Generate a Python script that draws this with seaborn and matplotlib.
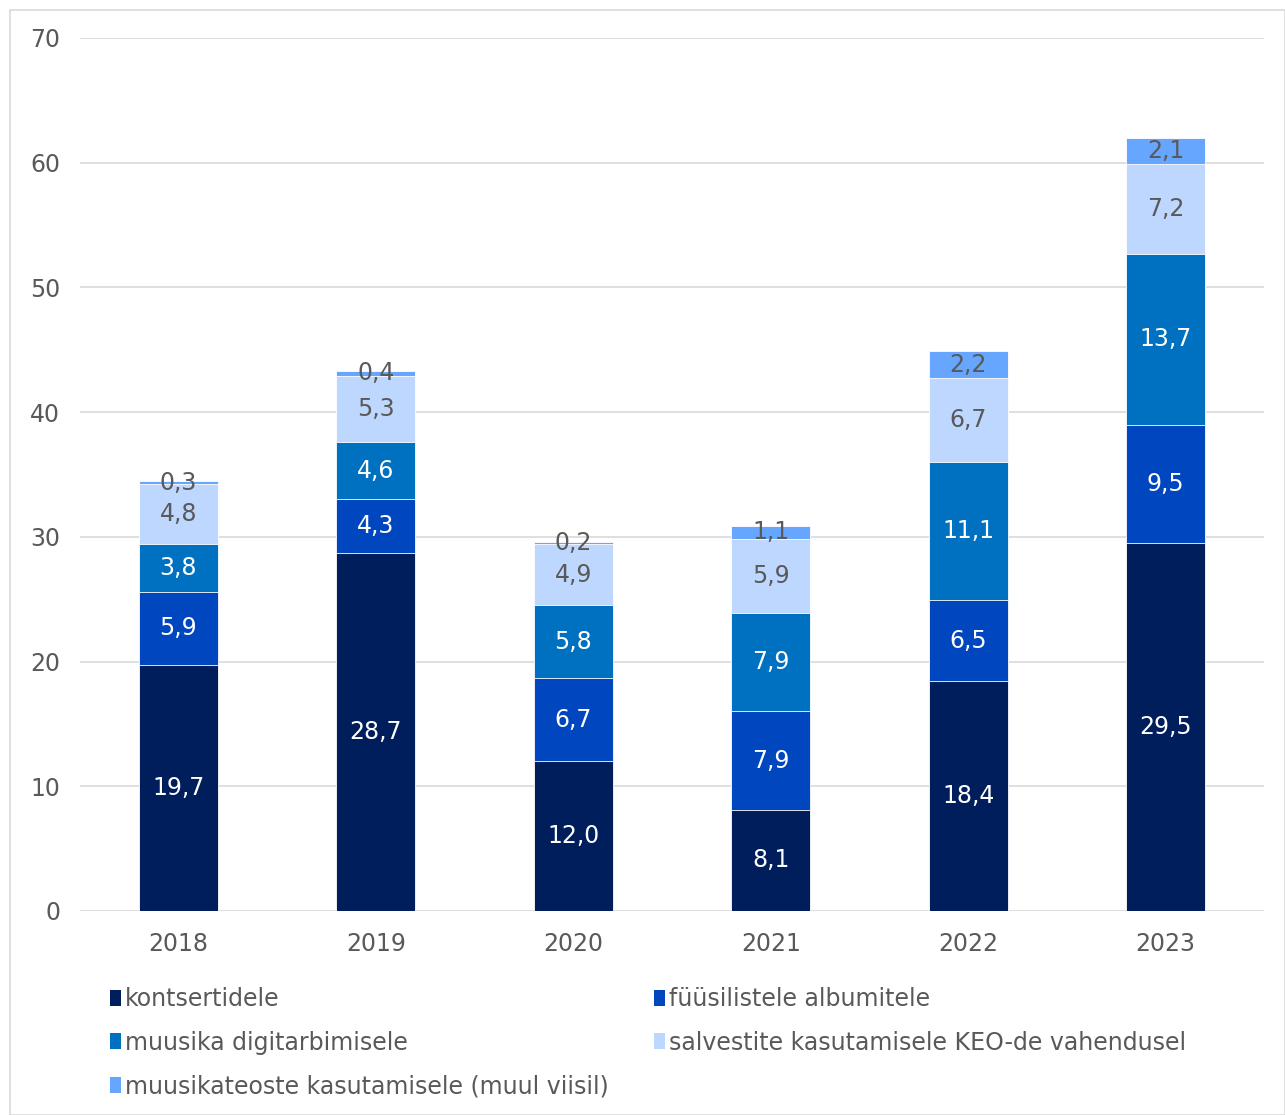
import numpy as np
import pandas as pd
import matplotlib
matplotlib.use("Agg")
import matplotlib.pyplot as plt
import seaborn as sns
from matplotlib.patches import Patch, Rectangle

years = ["2018", "2019", "2020", "2021", "2022", "2023"]
kontsertidele = [19.7, 28.7, 12.0, 8.1, 18.4, 29.5]
fuusilistele = [5.9, 4.3, 6.7, 7.9, 6.5, 9.5]
digitarbimisele = [3.8, 4.6, 5.8, 7.9, 11.1, 13.7]
keo = [4.8, 5.3, 4.9, 5.9, 6.7, 7.2]
muul = [0.3, 0.4, 0.2, 1.1, 2.2, 2.1]

series_names = [
    "kontsertidele",
    "füüsilistele albumitele",
    "muusika digitarbimisele",
    "salvestite kasutamisele KEO-de vahendusel",
    "muusikateoste kasutamisele (muul viisil)",
]
series_values = [kontsertidele, fuusilistele, digitarbimisele, keo, muul]
colors = ["#001E5C", "#0046BE", "#0070C0", "#BDD7FF", "#66A6FF"]
label_colors = ["white", "white", "white", "#595959", "#595959"]

sns.set_style("white")
plt.rcParams["font.family"] = ["DejaVu Sans"]

fig = plt.figure(figsize=(12.85, 11.15), dpi=100)
ax = fig.add_axes([0.062, 0.183, 0.922, 0.783])

df = pd.DataFrame({"year": years})
for name, vals in zip(series_names, series_values):
    df[name] = vals
cum = df[series_names].cumsum(axis=1)

# draw cumulative totals from top layer down so each layer shows its own segment
for i in range(len(series_names) - 1, -1, -1):
    sns.barplot(x=df["year"], y=cum[series_names[i]], color=colors[i],
                width=0.4, saturation=1, edgecolor="white", linewidth=0.6,
                ax=ax, zorder=3)

for i, name in enumerate(series_names):
    bottoms = cum[name] - df[name]
    for j, v in enumerate(df[name]):
        ax.text(j, bottoms[j] + v / 2, f"{v:.1f}".replace(".", ","),
                ha="center", va="center", fontsize=17,
                color=label_colors[i], zorder=5)

ax.set_ylim(0, 70)
ax.set_yticks(range(0, 71, 10))
ax.set_xlim(-0.5, 5.5)
ax.yaxis.grid(True, color="#D9D9D9", linewidth=1.2, zorder=0)
ax.set_axisbelow(True)
for s in ["top", "right", "left", "bottom"]:
    ax.spines[s].set_visible(False)
ax.tick_params(axis="both", length=0, labelsize=17, labelcolor="#595959")
ax.tick_params(axis="y", pad=14)
ax.tick_params(axis="x", pad=15)
ax.set_xlabel("")
ax.set_ylabel("")

handles = [Patch(facecolor=c, edgecolor="none") for c in colors]
order = [0, 2, 4, 1, 3]
leg = fig.legend([handles[k] for k in order], [series_names[k] for k in order],
                 loc="upper left", bbox_to_anchor=(0.078, 0.123), ncol=2,
                 frameon=False, fontsize=17, handlelength=0.5,
                 handleheight=0.65, handletextpad=0.15, columnspacing=1.9,
                 labelspacing=0.82, borderaxespad=0)
for t in leg.get_texts():
    t.set_color("#595959")

fig.patches.append(Rectangle((0.008, 0.0), 0.992, 0.991, transform=fig.transFigure,
                             fill=False, edgecolor="#D9D9D9", linewidth=1.2))

fig.savefig("out.png", dpi=100)
